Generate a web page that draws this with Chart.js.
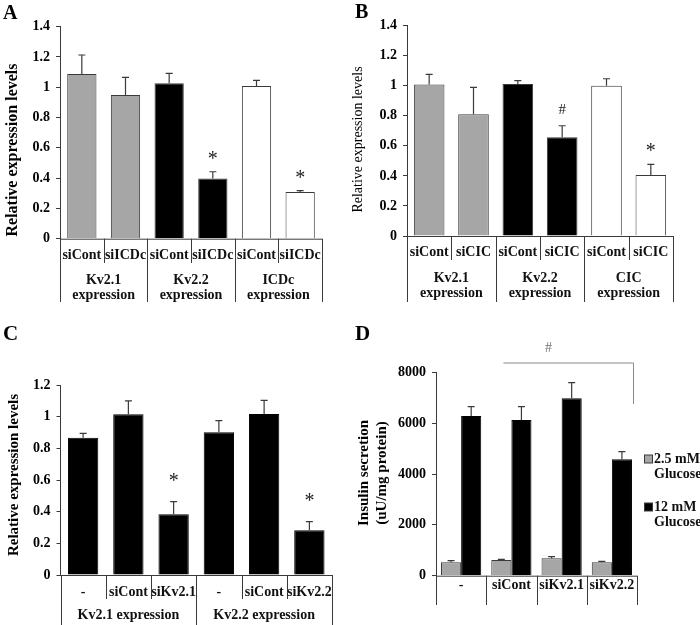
<!DOCTYPE html>
<html><head><meta charset="utf-8">
<script src="https://cdn.jsdelivr.net/npm/chart.js@4.4.0/dist/chart.umd.min.js"></script>
<style>
html,body{margin:0;padding:0;background:#fff;}
body{width:700px;height:625px;position:relative;overflow:hidden;}
canvas{position:absolute;}
</style></head><body>
<canvas id="cA" width="350" height="310" style="left:0;top:0"></canvas>
<canvas id="cB" width="350" height="310" style="left:350px;top:0"></canvas>
<canvas id="cC" width="350" height="315" style="left:0;top:310px"></canvas>
<canvas id="cD" width="350" height="315" style="left:350px;top:310px"></canvas>
<script>
// ---------- DATA ----------
const catsA = ['siCont','siICDc','siCont','siICDc','siCont','siICDc'];
const groupsA = [['Kv2.1','expression'],['Kv2.2','expression'],['ICDc','expression']];
const valsA = [1.088, 0.949, 1.026, 0.398, 1.008, 0.308];
const errA  = [0.125, 0.116, 0.066, 0.044, 0.038, 0.009];
const marksA = ['', '', '', '*', '', '*'];
const ticksA = [0, 0.2, 0.4, 0.6, 0.8, 1, 1.2, 1.4];

const catsB = ['siCont','siCIC','siCont','siCIC','siCont','siCIC'];
const groupsB = [['Kv2.1','expression'],['Kv2.2','expression'],['CIC','expression']];
const valsB = [1.009, 0.810, 1.012, 0.657, 1.000, 0.406];
const errB  = [0.067, 0.180, 0.022, 0.077, 0.047, 0.071];
const marksB = ['', '', '', '#', '', '*'];
const ticksB = [0, 0.2, 0.4, 0.6, 0.8, 1, 1.2, 1.4];

const catsC = ['-','siCont','siKv2.1','-','siCont','siKv2.2'];
const groupsC = [['Kv2.1 expression'],['Kv2.2 expression']];
const valsC = [0.867, 1.015, 0.383, 0.901, 1.017, 0.282];
const errC  = [0.028, 0.085, 0.080, 0.074, 0.086, 0.055];
const marksC = ['', '', '*', '', '', '*'];
const ticksC = [0, 0.2, 0.4, 0.6, 0.8, 1, 1.2];

const catsD = ['-','siCont','siKv2.1','siKv2.2'];
const seriesD = [['2.5 mM','Glucose'],['12 mM','Glucose']];
const lowD  = [525, 616, 682, 525];
const lowErrD = [65, 24, 68, 40];
const highD = [6282, 6125, 6977, 4577];
const highErrD = [368, 525, 616, 302];
const ticksD = [0, 2000, 4000, 6000, 8000];

// ---------- STYLE ----------
const GRAY = '#a6a6a6', BLACK = '#000000', WHITE = '#ffffff', EDGE = '#3a3a3a';
const SERIF = '"Liberation Serif", "Times New Roman", serif';
const colorsA = [GRAY, GRAY, BLACK, BLACK, WHITE, WHITE];
const colorsC = [BLACK, BLACK, BLACK, BLACK, BLACK, BLACK];

function yScale(max, step, fmt){
  return {
    min: 0, max: max,
    ticks: { stepSize: step, color: '#000', padding: 6, font: {family: SERIF, size: 14, weight: 'bold'}, callback: fmt },
    grid: { drawOnChartArea: false, drawTicks: true, tickLength: 4, color: EDGE },
    border: { display: true, color: EDGE, width: 1 },
    afterFit: s => { s.width = s.chart.options.plugins.deco.left; }
  };
}

function drawText(ctx, txt, x, y, font, color, align){
  ctx.save(); ctx.font = font; ctx.fillStyle = color || '#000';
  ctx.textAlign = align || 'center'; ctx.textBaseline = 'middle';
  ctx.fillText(txt, x, y); ctx.restore();
}

const deco = {
  id: 'deco',
  afterDatasetsDraw(chart, args, o){
    const ctx = chart.ctx, ys = chart.scales.y;
    chart.data.datasets.forEach((ds, di) => {
      const meta = chart.getDatasetMeta(di);
      meta.data.forEach((bar, i) => {
        const top = ys.getPixelForValue(ds.data[i] + ds.err[i]);
        const base = ys.getPixelForValue(ds.data[i]);
        ctx.save(); ctx.strokeStyle = EDGE; ctx.lineWidth = 1.2;
        ctx.beginPath(); ctx.moveTo(bar.x, base); ctx.lineTo(bar.x, top);
        ctx.moveTo(bar.x - 3.5, top); ctx.lineTo(bar.x + 3.5, top); ctx.stroke(); ctx.restore();
        if (ds.marks && ds.marks[i]) {
          const m = ds.marks[i];
          ctx.save(); ctx.fillStyle = '#222'; ctx.textAlign = 'center'; ctx.textBaseline = 'alphabetic';
          if (m === '*') { ctx.font = '20px ' + SERIF; ctx.fillText(m, bar.x, top - o.markOff + 0.47*20); }
          else { ctx.font = '15px ' + SERIF; ctx.fillText(m, bar.x, top - o.markOff + 0.34*15); }
          ctx.restore();
        }
      });
    });
  },
  afterDraw(chart, args, o){
    const ctx = chart.ctx, ca = chart.chartArea, xs = chart.scales.x;
    const n = chart.data.labels.length, w = (ca.right - ca.left) / n;
    ctx.save();
    ctx.strokeStyle = EDGE; ctx.lineWidth = 1;
    // x axis line
    ctx.beginPath(); ctx.moveTo(ca.left, ca.bottom + 0.5); ctx.lineTo(ca.right, ca.bottom + 0.5); ctx.stroke();
    // table
    const t = o.table;
    for (let i = 0; i <= n; i++) {
      const x = Math.round(i === 0 ? ca.left : (i === n ? ca.right : (xs.getPixelForValue(i - 1) + xs.getPixelForValue(i)) / 2)) + 0.5;
      const full = (i % t.groupSize === 0);
      ctx.beginPath(); ctx.moveTo(x, ca.bottom); ctx.lineTo(x, full ? t.fullEnd : t.subEnd); ctx.stroke();
    }
    chart.data.labels.forEach((lab, i) => {
      drawText(ctx, lab, xs.getPixelForValue(i), t.row1, 'bold 14px ' + SERIF, '#111');
    });
    if (t.groups) {
      t.groups.forEach((g, gi) => {
        const cx = ca.left + w * t.groupSize * (gi + 0.5);
        g.forEach((line, li) => drawText(ctx, line, cx, t.row2[li], 'bold 14px ' + SERIF, '#111'));
      });
    }
    // y title
    const yt = o.ytitle;
    yt.lines.forEach((line, li) => {
      ctx.save(); ctx.translate(yt.x[li], yt.y); ctx.rotate(-Math.PI/2);
      ctx.font = yt.font; ctx.fillStyle = '#000'; ctx.textAlign = 'center'; ctx.textBaseline = 'middle';
      ctx.fillText(line, 0, 0); ctx.restore();
    });
    // panel letter
    ctx.font = 'bold ' + o.letter.size + 'px ' + SERIF; ctx.fillStyle = '#000';
    ctx.textAlign = 'left'; ctx.textBaseline = 'alphabetic';
    ctx.fillText(o.letter.t, o.letter.x, o.letter.y);
    if (o.extra) o.extra(chart, ctx);
    ctx.restore();
  }
};

function makeBarChart(id, labels, datasets, area, yOpts, decoOpts, barPct, catPct){
  const cv = document.getElementById(id);
  decoOpts.left = area.left;
  return new Chart(cv, {
    type: 'bar',
    data: { labels: labels, datasets: datasets },
    options: {
      responsive: false, animation: false, devicePixelRatio: 1,
      layout: { padding: { left: 0, top: area.top, right: cv.width - area.right, bottom: cv.height - area.bottom } },
      datasets: { bar: { barPercentage: barPct, categoryPercentage: catPct, borderWidth: 1 } },
      scales: { x: { display: false }, y: yOpts },
      plugins: { legend: { display: false }, tooltip: { enabled: false }, title: { display: false }, deco: decoOpts }
    },
    plugins: [deco]
  });
}

const fmt1 = v => String(+v.toFixed(1));
const fmt0 = v => String(v);

// Panel A
makeBarChart('cA', catsA, [{
  data: valsA, err: errA, marks: marksA,
  backgroundColor: colorsA, borderColor: EDGE
}], {left: 60, right: 322, top: 26.7, bottom: 238.7}, yScale(1.4, 0.2, fmt1), {
  markOff: 16,
  table: { groupSize: 2, subEnd: 263, fullEnd: 302, row1: 255.5, groups: groupsA, row2: [280.5, 295.5] },
  ytitle: { lines: ['Relative expression levels'], x: [13], y: 150, font: 'bold 16px ' + SERIF },
  letter: { t: 'A', x: 3, y: 18.5, size: 20 }
}, 0.67, 1.0);

// Panel B
makeBarChart('cB', catsB, [{
  data: valsB, err: errB, marks: marksB,
  backgroundColor: colorsA, borderColor: EDGE
}], {left: 57, right: 323, top: 25.7, bottom: 236}, yScale(1.4, 0.2, fmt1), {
  markOff: 17,
  table: { groupSize: 2, subEnd: 260, fullEnd: 302, row1: 252.5, groups: groupsB, row2: [278, 293.5] },
  ytitle: { lines: ['Relative expression levels'], x: [8], y: 139.5, font: '14px ' + SERIF },
  letter: { t: 'B', x: 5, y: 17.5, size: 20 }
}, 0.69, 1.0);

// Panel C
makeBarChart('cC', catsC, [{
  data: valsC, err: errC, marks: marksC,
  backgroundColor: colorsC, borderColor: BLACK
}], {left: 60.5, right: 332, top: 75, bottom: 265}, yScale(1.2, 0.2, fmt1), {
  markOff: 24,
  table: { groupSize: 3, subEnd: 289, fullEnd: 320, row1: 282, groups: groupsC, row2: [305] },
  ytitle: { lines: ['Relative expression levels'], x: [14], y: 165, font: 'bold 15px ' + SERIF },
  letter: { t: 'C', x: 3, y: 30, size: 21 }
}, 0.67, 1.0);

// Panel D
makeBarChart('cD', catsD, [
  { label: seriesD[0].join(' '), data: lowD, err: lowErrD, backgroundColor: GRAY, borderColor: EDGE },
  { label: seriesD[1].join(' '), data: highD, err: highErrD, backgroundColor: BLACK, borderColor: BLACK }
], {left: 86, right: 287, top: 62.3, bottom: 265.7}, yScale(8000, 2000, fmt0), {
  markOff: 0,
  table: { groupSize: 1, subEnd: 295, fullEnd: 295, row1: 275, groups: null },
  ytitle: { lines: ['Insulin secretion', '(uU/mg protein)'], x: [14, 32], y: 163, font: 'bold 15px ' + SERIF },
  letter: { t: 'D', x: 5, y: 30, size: 21 },
  extra: (chart, ctx) => {
    const ca = chart.chartArea, xs = chart.scales.x;
    // significance bracket
    const x1 = xs.getPixelForValue(1) - 8, x2 = ca.right - 3.5, yb = 52.5, yv = 94;
    ctx.save(); ctx.strokeStyle = '#8a8a8a'; ctx.lineWidth = 1;
    ctx.beginPath(); ctx.moveTo(x1, yb + 0.5); ctx.lineTo(x2, yb + 0.5); ctx.lineTo(x2, yv); ctx.stroke();
    ctx.restore();
    drawText(ctx, '#', (x1 + x2) / 2 - 20, 38, '14px ' + SERIF, '#777');
    // legend
    const ys0 = [149, 197];
    chart.data.datasets.forEach((ds, i) => {
      const y = ys0[i];
      ctx.save(); ctx.fillStyle = ds.backgroundColor; ctx.strokeStyle = EDGE; ctx.lineWidth = 1;
      ctx.fillRect(294.5, y - 4, 8, 8); ctx.strokeRect(294.5, y - 4, 8, 8); ctx.restore();
      drawText(ctx, seriesD[i][0], 304, y, 'bold 14px ' + SERIF, '#111', 'left');
      drawText(ctx, seriesD[i][1], 304, y + 15.5, 'bold 14px ' + SERIF, '#111', 'left');
    });
  }
}, 1.0, 0.8);
</script>
</body></html>
